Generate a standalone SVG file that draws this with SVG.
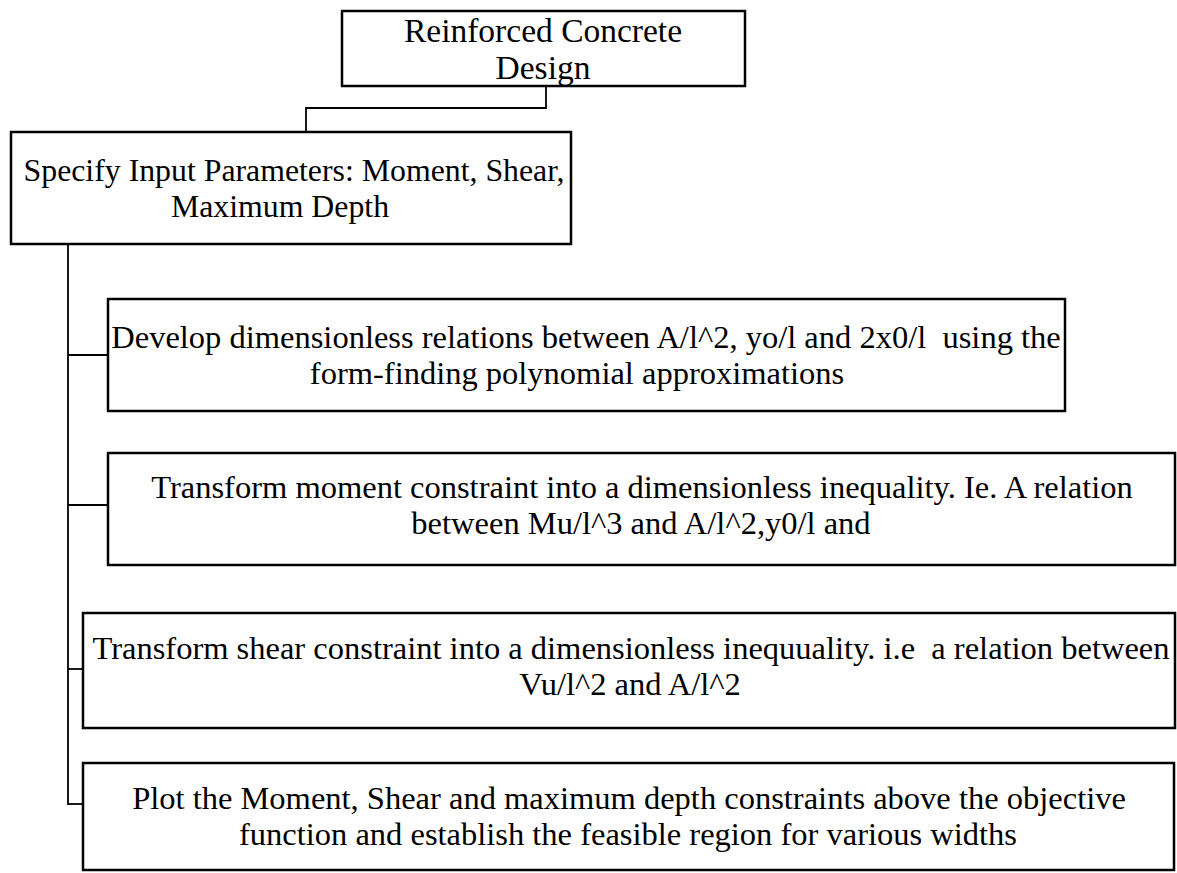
<svg xmlns="http://www.w3.org/2000/svg" width="1177" height="873" viewBox="0 0 1177 873">
<style>
.box{fill:#fff;stroke:#000;stroke-width:2.5}
.t{font-family:"Liberation Serif","Times New Roman",serif;font-size:32.5px;fill:#000;text-anchor:middle}
.big{font-size:33.5px}
.c{fill:none;stroke:#000;stroke-width:1.8}
</style>
<rect width="1177" height="873" fill="#fff"/>
<g id="connectors">
<polyline class="c" points="546,86 546,108 306,108 306,132"/>
<line class="c" x1="68" y1="244" x2="68" y2="805"/>
<line class="c" x1="68" y1="355" x2="108" y2="355"/>
<line class="c" x1="68" y1="505" x2="108" y2="505"/>
<line class="c" x1="68" y1="669" x2="83" y2="669"/>
<line class="c" x1="68" y1="804" x2="83" y2="804"/>
</g>
<g id="n1">
<rect class="box" x="342" y="11" width="403" height="75"/>
<text class="t big" x="543" y="41.5">Reinforced Concrete</text>
<text class="t big" x="543" y="79">Design</text>
</g>
<g id="n2">
<rect class="box" x="11" y="132" width="560" height="112"/>
<text class="t" x="294" y="180.5" style="font-size:31.8px">Specify Input Parameters: Moment, Shear,</text>
<text class="t" x="280" y="216.5" style="font-size:31.8px">Maximum Depth</text>
</g>
<g id="n3">
<rect class="box" x="108" y="299" width="957" height="112"/>
<text class="t" x="586" y="347.5" xml:space="preserve">Develop dimensionless relations between A/l^2, yo/l and 2x0/l  using the</text>
<text class="t" x="577" y="383.5">form-finding polynomial approximations</text>
</g>
<g id="n4">
<rect class="box" x="108" y="453" width="1067" height="112"/>
<text class="t" x="642" y="498">Transform moment constraint into a dimensionless inequality. Ie. A relation</text>
<text class="t" x="641" y="534">between Mu/l^3 and A/l^2,y0/l and</text>
</g>
<g id="n5">
<rect class="box" x="83" y="613" width="1092" height="115"/>
<text class="t" x="631" y="658.5" xml:space="preserve">Transform shear constraint into a dimensionless inequuality. i.e  a relation between</text>
<text class="t" x="630" y="694.5">Vu/l^2 and A/l^2</text>
</g>
<g id="n6">
<rect class="box" x="83" y="763" width="1091" height="107"/>
<text class="t" x="629" y="809">Plot the Moment, Shear and maximum depth constraints above the objective</text>
<text class="t" x="628" y="845">function and establish the feasible region for various widths</text>
</g>
</svg>
